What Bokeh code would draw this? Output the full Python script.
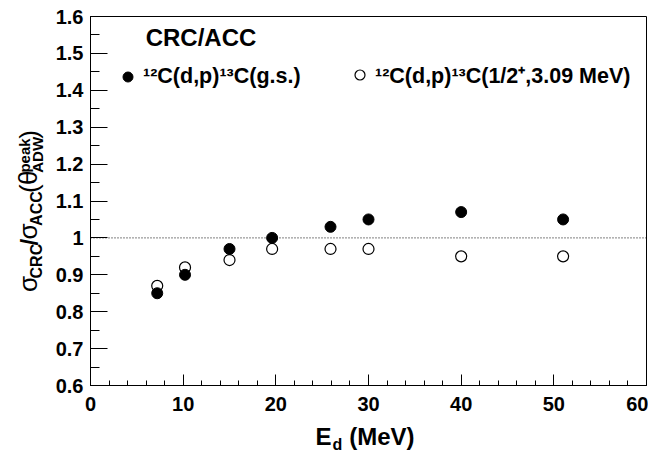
import math
from bokeh.plotting import figure
from bokeh.layouts import row, column
from bokeh.models import (Range1d, Span, Label, Legend, LegendItem,
                          SingleIntervalTicker, CustomJSTickFormatter)
from bokeh.embed import file_html
from bokeh.resources import INLINE

# ---- data ----
energy_gs = [7.2, 10.2, 15.0, 19.6, 25.9, 30.0, 40.0, 51.0]
ratio_gs = [0.85, 0.90, 0.97, 1.00, 1.03, 1.05, 1.07, 1.05]
energy_ex = [7.2, 10.2, 15.0, 19.6, 25.9, 30.0, 40.0, 51.0]
ratio_ex = [0.87, 0.92, 0.94, 0.97, 0.97, 0.97, 0.95, 0.95]
label_gs = "¹²C(d,p)¹³C(g.s.)"
label_ex = "¹²C(d,p)¹³C(1/2⁺,3.09 MeV)"
panel_title = "CRC/ACC"
x_range = (0, 60)
y_range = (0.6, 1.6)
reference_line = 1.0

FONT = "Liberation Sans"
W = 648          # total width
H = 455          # total height
HM = 421         # height of the row holding the plot
LW = 50          # width of the strip holding the y-axis title
FL, FR, FT, FB = 90, 646, 16, 385   # frame edges on the page
MID = 0.3465     # distance (em) from baseline to the middle of the line box

# approximate advance widths (em) of Liberation Sans, used to lay out pieces
ADV = {"C": .722, "R": .722, "A": .722, "D": .722, "W": .944, "E": .667,
       "M": .833, "V": .667, "p": .611, "e": .556, "a": .556, "k": .556,
       "d": .611, "(": .333, ")": .333, "/": .278, " ": .278,
       "σ": .60, "θ": .556}


def text_width(s, fs):
    return sum(ADV.get(c, .6) for c in s) * fs


def strip(width, height):
    f = figure(width=width, height=height, output_backend="svg",
               toolbar_location=None, x_range=Range1d(0, width),
               y_range=Range1d(0, height), x_axis_location=None,
               y_axis_location=None, min_border_left=0, min_border_right=0,
               min_border_top=0, min_border_bottom=0)
    f.outline_line_color = None
    f.xgrid.visible = False
    f.ygrid.visible = False
    f.background_fill_color = "white"
    f.border_fill_color = "white"
    return f


p = figure(width=W - LW, height=HM, output_backend="svg", toolbar_location=None,
           x_range=Range1d(*x_range), y_range=Range1d(*y_range),
           min_border_left=FL - LW, min_border_right=W - FR, min_border_top=FT,
           min_border_bottom=HM - FB)
p.background_fill_color = "white"
p.border_fill_color = "white"
p.outline_line_color = "black"
p.outline_line_width = 1
p.xgrid.visible = False
p.ygrid.visible = False


def X(px):
    return x_range[0] + (px - FL) * (x_range[1] - x_range[0]) / (FR - FL)


def Y(py):
    return y_range[1] - (py - FT) * (y_range[1] - y_range[0]) / (FB - FT)


# axes
p.xaxis.ticker = SingleIntervalTicker(interval=10, num_minor_ticks=5)
p.yaxis.ticker = SingleIntervalTicker(interval=0.1, num_minor_ticks=2)
p.yaxis.formatter = CustomJSTickFormatter(code="return String(Math.round(tick*10)/10)")
for ax in (p.xaxis[0], p.yaxis[0]):
    ax.axis_line_color = "black"
    ax.axis_line_width = 1
    ax.major_tick_out = 0
    ax.minor_tick_out = 0
    ax.major_tick_line_color = "black"
    ax.minor_tick_line_color = "black"
    ax.major_label_text_font = FONT
    ax.major_label_text_font_style = "bold"
    ax.major_label_text_font_size = "20px"
    ax.major_label_text_color = "black"
p.xaxis.major_tick_in = 11
p.xaxis.minor_tick_in = 5
p.xaxis.major_label_standoff = 11
p.yaxis.major_tick_in = 17
p.yaxis.minor_tick_in = 9
p.yaxis.major_label_standoff = 7

# reference line
p.add_layout(Span(location=reference_line, dimension="width", line_color="black",
                  line_width=1, line_dash="1 2"))

# data
r_ex = p.scatter(energy_ex, ratio_ex, marker="circle", size=11, fill_color=None,
                 line_color="black", line_width=1.2)
r_gs = p.scatter(energy_gs, ratio_gs, marker="circle", size=11, fill_color="black",
                 line_color="black")


def make_legend(label, renderer, vx, vy):
    leg = Legend(items=[LegendItem(label=label, renderers=[renderer])],
                 location=(vx, vy), padding=0, margin=0, glyph_width=25,
                 glyph_height=25, label_standoff=3, spacing=0,
                 background_fill_alpha=0, border_line_color=None,
                 label_text_font=FONT, label_text_font_style="bold",
                 label_text_font_size="21.5px", label_text_color="black")
    p.add_layout(leg)


make_legend(label_gs, r_gs, 25, 296)
make_legend(label_ex, r_ex, 257, 296)

# panel title (centred at x=200, baseline y=45 on the page)
fs_t = 24
p.add_layout(Label(x=X(200.5), y=Y(45 - MID * fs_t),
                   text=panel_title, text_font=FONT, text_font_style="bold",
                   text_font_size=f"{fs_t}px", text_color="black",
                   text_baseline="middle", text_align="center"))

# ---- y axis title strip: sigma_CRC / sigma_ACC (theta^peak_ADW), rotated ----
yt = strip(LW, HM)
# (text, font size, style, baseline x on page, advances along the title?)
y_pieces = [("σ", 26, "normal", 37, True),
            ("CRC", 16, "bold", 42, True),
            ("/", 24, "bold", 37, True),
            ("σ", 26, "normal", 37, True),
            ("ACC", 16, "bold", 42, True),
            ("(", 26, "normal", 38, True),
            ("θ", 26, "normal", 37, True),
            ("peak", 15, "bold", 29, False),
            ("ADW", 15, "bold", 42, True),
            (")", 26, "normal", 38, True)]
pos = 313.0     # page y where the title starts (it reads upward)
for txt, fs, st, bx, advance in y_pieces:
    w = text_width(txt, fs)
    cy = pos - w / 2
    cx = bx - MID * fs
    yt.add_layout(Label(x=cx, y=HM - cy, text=txt, text_font=FONT, text_color="black",
                        text_font_style=st, text_font_size=f"{fs}px",
                        angle=math.pi / 2, text_baseline="middle",
                        text_align="center"))
    if advance:
        pos -= w + 1

# ---- x axis title strip: E_d (MeV) ----
xt = strip(W, H - HM)
x_pieces = [("E", 24, 0), ("d", 16, 6), ("(MeV)", 24, 0)]
pos = 315.0
base = 444.0
for txt, fs, drop in x_pieces:
    w = text_width(txt, fs)
    cx = pos + w / 2
    cy = base + drop - MID * fs
    xt.add_layout(Label(x=cx, y=H - cy, text=txt, text_font=FONT, text_color="black",
                        text_font_style="bold", text_font_size=f"{fs}px",
                        text_baseline="middle", text_align="center"))
    pos += w + (7 if txt == "d" else 1)

layout = column(row(yt, p), xt)
open("out.html", "w").write(file_html(layout, INLINE))
